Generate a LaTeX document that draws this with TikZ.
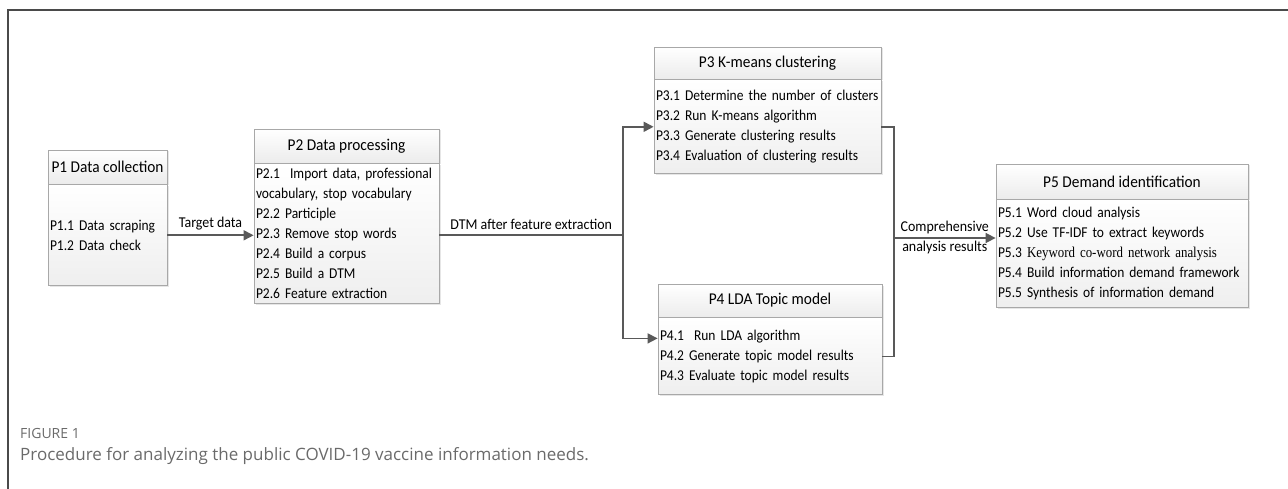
\documentclass[tikz,border=0pt]{standalone}
\usepackage{fontspec}
\setmainfont{Carlito}[FakeStretch=0.93]
\newfontfamily\listfont{Carlito}[FakeStretch=0.9]
\newfontfamily\timesfont{Liberation Serif}[FakeStretch=0.86]
\newfontfamily\capfont{Open Sans}
\usepackage{tikz}
\usetikzlibrary{arrows.meta, positioning, shadows}
\definecolor{boxline}{HTML}{A8A8A8}
\definecolor{flowline}{HTML}{595959}
\definecolor{framegray}{HTML}{4A4A4A}
\definecolor{capgray}{HTML}{6A6A6A}

\begin{document}
\begin{tikzpicture}[
    x=1pt, y=-1pt,
    font=\fontsize{15}{20}\selectfont,
    phase/.style={rectangle, draw=boxline, line width=0.8pt, top color=white, bottom color=gray!15, inner sep=0pt, text centered, minimum height=34pt, font=\fontsize{16.5}{18}\selectfont, drop shadow={shadow xshift=1.5pt, shadow yshift=-1.5pt, opacity=0.2}},
    tasks/.style={rectangle, draw=boxline, line width=0.8pt, top color=white, bottom color=gray!13, inner xsep=2pt, inner ysep=0pt, align=left, font=\listfont\fontsize{15}{20}\selectfont, drop shadow={shadow xshift=1.5pt, shadow yshift=-1.5pt, opacity=0.2}},
    link/.style={draw=flowline, line width=1.6pt},
    flow/.style={link, -{Triangle[length=10pt, width=10pt]}}
]
    \useasboundingbox (0,0) rectangle (1288,489);

    % Frame
    \draw [framegray, line width=1.5pt] (8,489) -- (8,10) -- (1288,10);

    % Phases
    \node [phase, minimum width=119pt] (p1head) at (107.5,167) {P1 Data collection};
    \node [tasks, text width=115pt, minimum height=101pt, below=0pt of p1head] (p1body) {P1.1 Data scraping\\P1.2 Data check};

    \node [phase, minimum width=185pt] (p2head) at (346.5,146) {P2 Data processing};
    \node [tasks, text width=181pt, minimum height=140pt, below=0pt of p2head] (p2body) {P2.1\ \ Import data, professional\\vocabulary, stop vocabulary\\P2.2 Participle\\P2.3 Remove stop words\\P2.4 Build a corpus\\P2.5 Build a DTM\\P2.6 Feature extraction};

    \node [phase, minimum width=227pt, minimum height=32pt] (p3head) at (767.5,63) {P3 K-means clustering};
    \node [tasks, text width=223pt, minimum height=94pt, below=0pt of p3head] (p3body) {P3.1 Determine the number of clusters\\P3.2 Run K-means algorithm\\P3.3 Generate clustering results\\P3.4 Evaluation of clustering results};

    \node [phase, minimum width=224pt, minimum height=33pt] (p4head) at (770,300.5) {P4 LDA Topic model};
    \node [tasks, text width=220pt, minimum height=77pt, below=0pt of p4head] (p4body) {P4.1\ \ Run LDA algorithm\\P4.2 Generate topic model results\\P4.3 Evaluate topic model results};

    \node [phase, minimum width=252pt, minimum height=35pt] (p5head) at (1122,181.5) {P5 Demand identification};
    \node [tasks, text width=248pt, minimum height=108pt, below=0pt of p5head] (p5body) {P5.1 Word cloud analysis\\P5.2 Use TF-IDF to extract keywords\\P5.3 {\timesfont Keyword co-word network analysis}\\P5.4 Build information demand framework\\P5.5 Synthesis of information demand};

    % Junctions
    \coordinate (split) at (623,235);
    \coordinate (merge) at (894,238);

    % Connections
    \draw [flow] (p1body.east) -- node [above=1pt] {Target data} (p1body.east -| p2body.west);
    \draw [link] (p2body.east |- split) -- node [above=1pt] {DTM after feature extraction} (split);
    \draw [flow] (split) |- (p3body.west);
    \draw [flow] (split) |- ([yshift=-21pt]p4body.north west);
    \draw [link] (p3body.east) -| (merge) |- (p4body.east);
    \draw [flow] (merge) -- node [align=center] {Comprehensive\\analysis results} (merge -| p5body.west);

    % Caption
    \node [anchor=west, inner sep=0pt, text=capgray, font=\capfont\fontsize{14}{16}\selectfont] (figno) at (20,433) {FIGURE 1};
    \node [anchor=west, inner sep=0pt, text=capgray, font=\capfont\fontsize{17}{20}\selectfont] (figcap) at (20,456) {Procedure for analyzing the public COVID-19 vaccine information needs.};
\end{tikzpicture}
\end{document}
